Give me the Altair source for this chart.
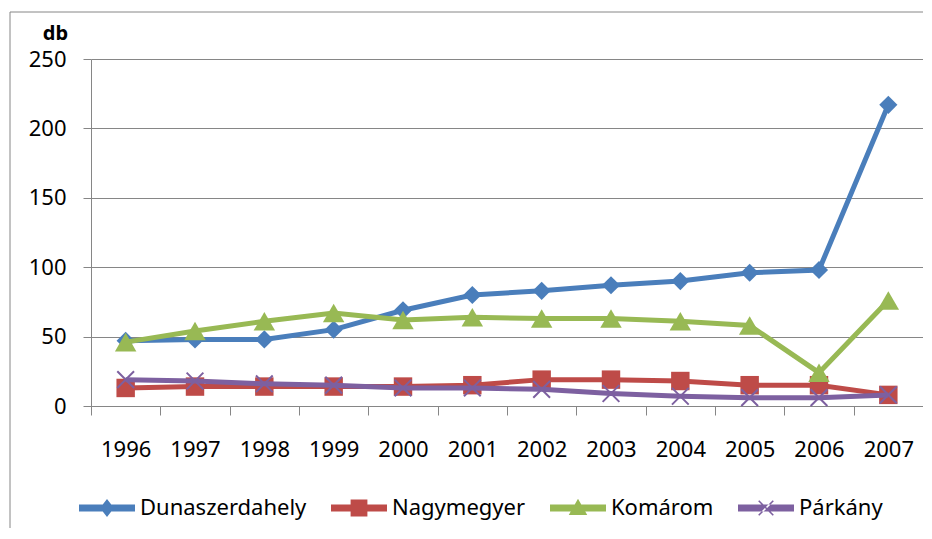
import altair as alt
import pandas as pd

years = ["1996", "1997", "1998", "1999", "2000", "2001", "2002", "2003", "2004", "2005", "2006", "2007"]
series_names = ["Dunaszerdahely", "Nagymegyer", "Komárom", "Párkány"]
duna = [47, 48, 48, 55, 69, 80, 83, 87, 90, 96, 98, 217]
nagy = [13, 14, 14, 14, 14, 15, 19, 19, 18, 15, 15, 8]
kom = [46, 54, 61, 67, 62, 64, 63, 63, 61, 58, 24, 76]
park = [19, 18, 16, 15, 13, 13, 12, 9, 7, 6, 6, 8]
y_ticks = [0, 50, 100, 150, 200, 250]

colors = ["#4A7EBB", "#BE4B48", "#98B954", "#7D60A0"]

rows = []
for name, vals in zip(series_names, [duna, nagy, kom, park]):
    for yr, v in zip(years, vals):
        rows.append({"year": yr, "value": v, "series": name})
df = pd.DataFrame(rows)

FONT = "Noto Sans"
GRAY = "#868686"

x_enc = alt.X("year:O", sort=years, scale=alt.Scale(type="band", paddingInner=0, paddingOuter=0),
              axis=alt.Axis(title=None, tickBand="extent", labelAngle=0, tickSize=9,
                            labelPadding=24, labelFontSize=22, labelFont=FONT, labelColor="#000000",
                            domainColor=GRAY, tickColor=GRAY, grid=False))
y_enc = alt.Y("value:Q", scale=alt.Scale(domain=[0, 250], nice=False),
              axis=alt.Axis(values=y_ticks, title="db", titleAngle=0, titleX=-36, titleY=-20,
                            titleAlign="center", titleBaseline="alphabetic", titleFontSize=20,
                            titleFont=FONT, titleFontWeight="bold", titleColor="#000000",
                            tickSize=8, labelPadding=17, labelFontSize=22, labelFont=FONT,
                            labelColor="#000000", domainColor=GRAY, tickColor=GRAY,
                            gridColor=GRAY, gridWidth=1, grid=True))

base = alt.Chart(df)

marker_shapes = ["diamond", "square", "triangle-up", "M-1,-1L1,1M-1,1L1,-1"]
marker_sizes = [330, 340, 460, 280]
marker_filled = [True, True, True, False]

layers = []
for name, col, shp, sz, fl in zip(series_names, colors, marker_shapes, marker_sizes, marker_filled):
    sub = base.transform_filter(alt.datum.series == name)
    line = sub.mark_line(strokeWidth=5, color=col).encode(x=x_enc, y=y_enc)
    if fl:
        pts = sub.mark_point(shape=shp, size=sz, filled=True, opacity=1, strokeWidth=0, color=col)
    else:
        pts = sub.mark_point(shape=shp, size=sz, filled=False, opacity=1, strokeWidth=2, color=col)
    pts = pts.encode(x=x_enc, y=y_enc)
    layers += [line, pts]

bar = "M-1,-0.125H1V0.125H-1Z"
legend_paths = [
    bar + "M0,-0.32L0.25,0L0,0.32L-0.25,0Z",
    bar + "M-0.3,-0.3H0.3V0.3H-0.3Z",
    bar + "M-0.33,0.25L0,-0.33L0.33,0.25Z",
    bar + "M-0.28,-0.24L-0.24,-0.28L0.28,0.24L0.24,0.28ZM-0.28,0.24L-0.24,0.28L0.28,-0.24L0.24,-0.28Z",
]
leg = alt.Legend(title=None, orient="none", legendX=-12, legendY=421, direction="horizontal",
                 labelFontSize=22, labelFont=FONT, labelColor="#000000", labelOffset=5,
                 labelLimit=0, columnPadding=24, symbolSize=3136, symbolOpacity=1,
                 symbolStrokeWidth=0, padding=0)
legend_layer = base.mark_point(filled=True, opacity=0, size=3136).encode(
    x=x_enc, y=y_enc,
    color=alt.Color("series:N", scale=alt.Scale(domain=series_names, range=colors), legend=leg),
    shape=alt.Shape("series:N", scale=alt.Scale(domain=series_names, range=legend_paths), legend=leg),
)

frame = alt.Chart(alt.Data(values=[{}])).mark_rect(fill="transparent", stroke=GRAY, strokeWidth=1).encode(
    x=alt.value(-81), x2=alt.value(900), y=alt.value(-47), y2=alt.value(520))

chart = alt.layer(frame, *layers, legend_layer).properties(
    width=832, height=347,
    autosize=alt.AutoSizeParams(type="none"),
    padding={"left": 83, "top": 51, "right": 0, "bottom": 122},
).configure_view(strokeWidth=0)

chart.save("out.html", embed_options={"renderer": "svg", "actions": False})
